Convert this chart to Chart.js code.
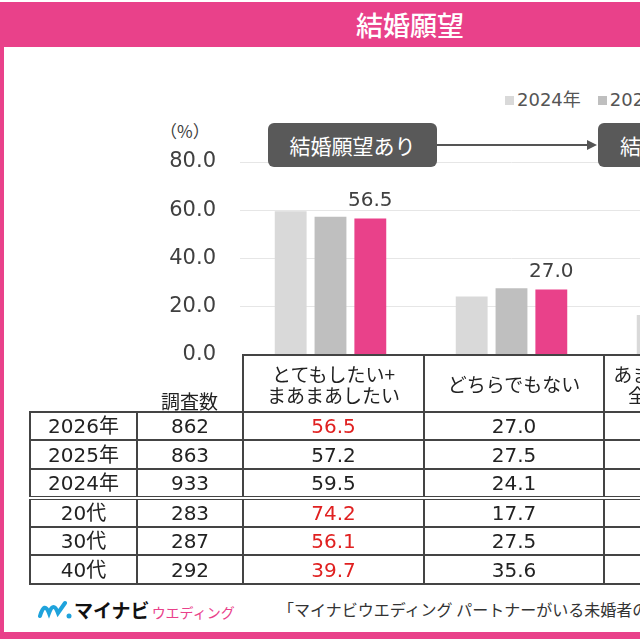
<!DOCTYPE html>
<html lang="ja">
<head>
<meta charset="utf-8">
<script src="https://cdn.jsdelivr.net/npm/chart.js@4/dist/chart.umd.min.js"></script>
<style>
html,body{margin:0;padding:0;width:640px;height:640px;overflow:hidden;background:#fff;}
body{position:relative;font-family:"Noto Sans CJK JP","Noto Sans",sans-serif;color:#333;}
.abs{position:absolute;}
.num{font-family:"DejaVu Sans","Noto Sans CJK JP",sans-serif;}
#cadre{left:0;top:2px;width:820px;height:637px;box-sizing:border-box;border:4px solid #E9418A;border-top:none;border-bottom-width:7px;}
#titre{left:0;top:2px;width:820px;height:45px;background:#E9418A;color:#fff;font-size:27px;font-weight:500;text-align:center;line-height:45px;}
#pct{left:160px;top:118px;font-size:17px;color:#404040;}
.boite{top:123px;height:44px;border-radius:6px;background:#595959;color:#fff;font-size:21px;line-height:44px;text-align:center;}
#legende{left:505px;top:85px;font-size:18px;color:#555;white-space:nowrap;}
#legende span.c{display:inline-block;width:9px;height:9px;margin-right:3px;vertical-align:1px;}
#legende span.t{margin-right:17px;}
#zone{left:0;top:100px;width:820px;height:291px;}
#tableau{left:29px;top:354px;width:755px;border-collapse:collapse;table-layout:fixed;font-size:20px;color:#222;}
#tableau td,#tableau th{border:2px solid #444;padding:0;text-align:center;font-weight:normal;line-height:1;white-space:nowrap;}
#tableau th{font-size:19px;line-height:21px;height:55px;}
#tableau td.vide{border:none;}
#tableau td.n{vertical-align:bottom;font-size:19px;padding-bottom:1px;}
#tableau tr.sep td{border-top:4px double #444;}
#tableau .rouge{color:#E02020;}
#pied{left:38px;top:596px;white-space:nowrap;}
#source{left:278px;top:597px;font-size:16px;color:#333;white-space:nowrap;}
</style>
</head>
<body>
<div id="cadre" class="abs"></div>
<div id="titre" class="abs">結婚願望</div>
<div id="legende" class="abs"></div>
<div id="pct" class="abs">（%）</div>
<div id="zone" class="abs"><canvas id="graph"></canvas></div>
<div class="abs boite" style="left:268px;width:169px">結婚願望あり</div>
<svg class="abs" style="left:0;top:0" width="640" height="200">
  <line x1="437" y1="145" x2="590" y2="145" stroke="#555" stroke-width="2"/>
  <polygon points="587,140 597,145 587,150" fill="#555"/>
</svg>
<div class="abs boite" style="left:598px;width:170px">結婚願望なし</div>
<table id="tableau" class="abs"></table>
<div id="pied" class="abs">
  <svg width="36" height="20" style="vertical-align:-2px">
    <path d="M2,16 C5,6 8,5 11,13 C14,5 17,5 20,13 L27,3" fill="none" stroke="#1FA3DC" stroke-width="4" stroke-linecap="round"/>
    <circle cx="31" cy="16" r="2.5" fill="#1FA3DC"/>
  </svg><span style="font-size:19px;font-weight:bold;color:#111">マイナビ</span><span style="font-size:14px;color:#E9418A;margin-left:2px">ウエディング</span>
</div>
<div id="source" class="abs">「マイナビウエディング パートナーがいる未婚者の結婚意識調査」</div>
<script>
/* ---- données ---- */
const categories = ['とてもしたい+\nまあまあしたい', 'どちらでもない', 'あまりしたくない+\n全くしたくない'];
const annees = ['2024年', '2025年', '2026年'];
const couleurs = ['#D9D9D9', '#BFBFBF', '#E9418A'];
const val2024 = [59.5, 24.1, 16.4];
const val2025 = [57.2, 27.5, 15.3];
const val2026 = [56.5, 27.0, 16.5];
const yTicks = [0, 20, 40, 60, 80];

const lignes = ['2026年', '2025年', '2024年', '20代', '30代', '40代'];
const effectifs = [862, 863, 933, 283, 287, 292];
const colEnvie = [56.5, 57.2, 59.5, 74.2, 56.1, 39.7];
const colNeutre = [27.0, 27.5, 24.1, 17.7, 27.5, 35.6];
const colPasEnvie = [16.5, 15.3, 16.4, 8.1, 16.4, 24.7];
const enRouge = [true, false, false, true, true, true];
const hauteurs = [28, 29, 29, 29, 28, 29];

const POLICE_NUM = '"DejaVu Sans", "Noto Sans CJK JP"';

/* ---- légende ---- */
document.getElementById('legende').innerHTML = annees.map((a, i) =>
  `<span class="c" style="background:${couleurs[i]}"></span><span class="t num">${a}</span>`).join('');

/* ---- tableau ---- */
const largeurs = [107, 106, 181, 180, 181];
let html = '<colgroup>' + largeurs.map(w => `<col style="width:${w}px">`).join('') + '</colgroup>';
html += '<tr><td class="vide"></td><td class="vide n">調査数</td>' +
  categories.map(c => `<th>${c.replace('\n', '<br>')}</th>`).join('') + '</tr>';
lignes.forEach((l, i) => {
  html += `<tr${i === 3 ? ' class="sep"' : ''} style="height:${hauteurs[i]}px"><td class="num">${l}</td><td class="num">${effectifs[i]}</td>` +
    `<td class="num${enRouge[i] ? ' rouge' : ''}">${colEnvie[i].toFixed(1)}</td>` +
    `<td class="num">${colNeutre[i].toFixed(1)}</td><td class="num">${colPasEnvie[i].toFixed(1)}</td></tr>`;
});
document.getElementById('tableau').innerHTML = html;

/* ---- valeurs au-dessus des barres 2026 ---- */
const etiquettes = {
  id: 'etiquettes',
  afterDatasetsDraw(chart){
    const ctx = chart.ctx;
    const meta = chart.getDatasetMeta(2);
    ctx.save();
    ctx.font = '20px ' + POLICE_NUM;
    ctx.fillStyle = '#404040';
    ctx.textAlign = 'center';
    ctx.textBaseline = 'bottom';
    meta.data.forEach((b, i) => ctx.fillText(val2026[i].toFixed(1), b.x, b.y - 8));
    ctx.restore();
  }
};

const series = [val2024, val2025, val2026];
new Chart(document.getElementById('graph'), {
  type: 'bar',
  data: {
    labels: categories,
    datasets: series.map((d, i) => ({
      label: annees[i], data: d, backgroundColor: couleurs[i],
      barPercentage: 0.8, categoryPercentage: 0.66
    }))
  },
  options: {
    responsive: true, maintainAspectRatio: false, animation: false,
    layout: { padding: { top: 62, bottom: 15, left: 0, right: 37 } },
    plugins: { legend: { display: false }, tooltip: { enabled: false } },
    scales: {
      x: { display: false },
      y: {
        min: 0, max: 80,
        afterFit: s => { s.width = 240; },
        afterBuildTicks: s => { s.ticks = yTicks.map(v => ({ value: v })); },
        border: { display: false },
        grid: { color: c => c.tick.value === 0 ? 'rgba(0,0,0,0)' : '#E6E6E6', drawTicks: false },
        ticks: {
          padding: 24, color: '#404040',
          font: { family: POLICE_NUM, size: 21 },
          callback: v => v.toFixed(1)
        }
      }
    }
  },
  plugins: [etiquettes]
});
</script>
</body>
</html>
